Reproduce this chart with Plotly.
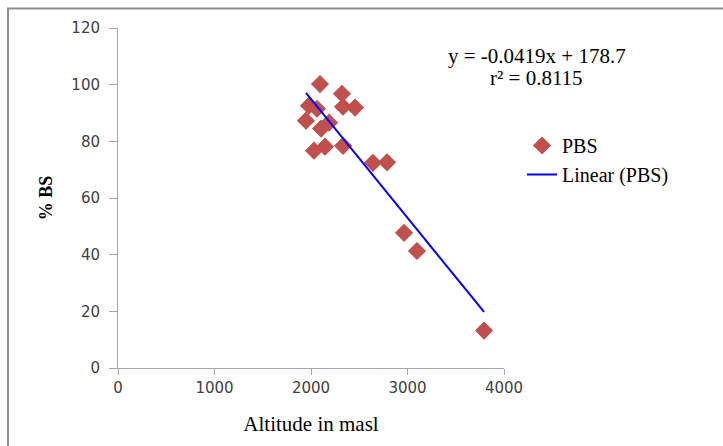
import plotly.graph_objects as go

# Data
altitude = [1948, 1979, 2093, 2062, 2031, 2104, 2145, 2187, 2321, 2332, 2456, 2332, 2642, 2788, 2964, 3098, 3793]
pct_bs = [87.3, 92.6, 100.2, 91.5, 76.7, 84.5, 78.1, 86.6, 96.8, 92.2, 91.9, 78.4, 72.4, 72.6, 47.7, 41.3, 13.2]

slope = -0.0419
intercept = 178.7
r2 = 0.8115

x_ticks = [0, 1000, 2000, 3000, 4000]
y_ticks = [0, 20, 40, 60, 80, 100, 120]

trend_x = [min(altitude), max(altitude)]
trend_y = [slope * v + intercept for v in trend_x]

W, H = 723, 446
L, R, T, B = 118, 504, 28, 368

def px(xp):
    return (xp - L) / (R - L)

def py(yp):
    return (B - yp) / (B - T)

serif = "Liberation Serif"
sans = "DejaVu Sans"

fig = go.Figure()
fig.add_trace(go.Scatter(
    x=altitude, y=pct_bs, mode="markers", name="PBS",
    marker=dict(symbol="diamond", size=14, color="#C0504D", line=dict(width=0)),
))
fig.add_trace(go.Scatter(
    x=trend_x, y=trend_y, mode="lines", name="Linear (PBS)",
    line=dict(color="#0000FF", width=2),
))

fig.update_layout(
    width=W, height=H,
    margin=dict(l=L, r=W - R, t=T, b=H - B),
    paper_bgcolor="white", plot_bgcolor="white",
    showlegend=True,
    legend=dict(x=px(522), y=py(126), xanchor="left", yanchor="top",
                font=dict(family=serif, size=20, color="#000"),
                tracegroupgap=0,
                bgcolor="rgba(0,0,0,0)"),
    xaxis=dict(range=[0, 4000], tickvals=x_ticks, showgrid=False, zeroline=False,
               showline=True, linecolor="#A6A6A6", linewidth=1,
               ticks="outside", ticklen=6, tickcolor="#A6A6A6",
               tickfont=dict(family=sans, size=15, color="#404040"),
               title=dict(text="Altitude in masl", font=dict(family=serif, size=21, color="#000"), standoff=20)),
    yaxis=dict(range=[0, 120], tickvals=y_ticks, showgrid=False, zeroline=False,
               showline=True, linecolor="#A6A6A6", linewidth=1,
               ticks="outside", ticklen=8, tickcolor="#A6A6A6", ticklabelstandoff=6,
               tickfont=dict(family=sans, size=15, color="#404040"),
               title=dict(text="<b>% BS</b>", font=dict(family=serif, size=18, color="#000"), standoff=14)),
    annotations=[
        dict(xref="paper", yref="paper", x=px(537), y=py(56), showarrow=False, xanchor="center", yanchor="middle",
             text=f"y = {slope}x + {intercept}", font=dict(family=serif, size=21, color="#000")),
        dict(xref="paper", yref="paper", x=px(536), y=py(78), showarrow=False, xanchor="center", yanchor="middle",
             text=f"r² = {r2}", font=dict(family=serif, size=21, color="#000")),
    ],
    shapes=[
        dict(type="rect", xref="paper", yref="paper", x0=px(8), x1=px(740), y0=py(470), y1=py(8.5),
             line=dict(color="#8C8C8C", width=2), fillcolor="rgba(0,0,0,0)", layer="below"),
    ],
)

fig.write_html("out.html", config={"displayModeBar": False},
               post_script="document.body.style.margin='0';")
